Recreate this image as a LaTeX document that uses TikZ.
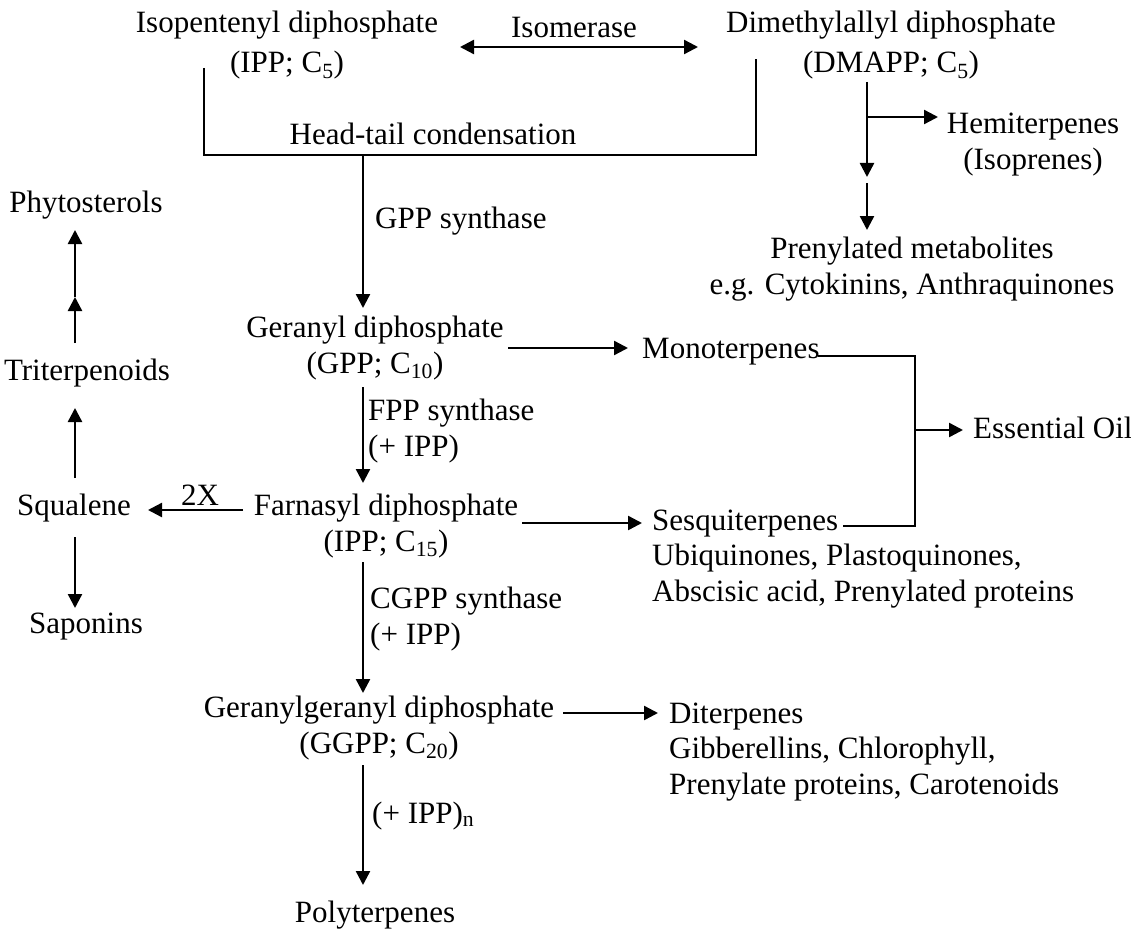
\documentclass[tikz,border=0pt]{standalone}
\usepackage{fontspec}
\setmainfont{Liberation Serif}
\usetikzlibrary{arrows.meta}
\begin{document}
\begin{tikzpicture}[x=1pt,y=-1pt,
  every node/.style={inner sep=0pt,font=\fontsize{31}{36}\selectfont},
  lbl/.style={anchor=base,align=center},
  lft/.style={anchor=base west,align=left},
  wire/.style={line width=2.4pt},
  arr/.style={wire,-{Triangle[length=14pt,width=14pt]}},
  dblarr/.style={wire,{Triangle[length=14pt,width=14pt]}-{Triangle[length=14pt,width=14pt]}}]
\useasboundingbox (0,0) rectangle (1131,928);

% ---- precursors (node base = baseline of the last line) ----
\node[lbl] (ipp)   at (287,73) {Isopentenyl diphosphate\\[4pt](IPP; C\textsubscript{5})};
\node[lbl] (dmapp) at (891,73) {Dimethylallyl diphosphate\\[4pt](DMAPP; C\textsubscript{5})};
\node[lbl] (isom)  at (574,38) {Isomerase};
\node[lbl] (htc)   at (433,145) {Head-tail condensation};

% ---- main chain ----
\node[lft] (gppsyn)  at (375,228) {GPP synthase};
\node[lbl] (gpp)     at (375,373) {Geranyl diphosphate\\(GPP; C\textsubscript{10})};
\node[lft] (fppsyn)  at (368,456) {FPP synthase\\(+ IPP)};
\node[lbl] (fpp)     at (386,551) {Farnasyl diphosphate\\(IPP; C\textsubscript{15})};
\node[lft] (cgppsyn) at (370,644) {CGPP synthase\\(+ IPP)};
\node[lbl] (ggpp)    at (379,753) {Geranylgeranyl diphosphate\\(GGPP; C\textsubscript{20})};
\node[lft] (ipn)     at (372,823) {(+ IPP)\textsubscript{n}};
\node[lbl] (poly)    at (375,922) {Polyterpenes};

% ---- sterol branch ----
\node[lbl] (phyto)  at (86,212) {Phytosterols};
\node[lbl] (triter) at (87,380) {Triterpenoids};
\node[lbl] (squal)  at (74,515) {Squalene};
\node[lbl] (sapon)  at (86,633) {Saponins};
\node[lbl] (twox)   at (200,505) {2X};

% ---- products ----
\node[lbl] (hemi)     at (1033,170) {Hemiterpenes\\(Isoprenes)};
\node[lbl] (prenyl)   at (912,294) {Prenylated metabolites\\e.g. Cytokinins, Anthraquinones};
\node[lft] (mono)     at (642,358) {Monoterpenes};
\node[lft] (sesq)     at (652,530) {Sesquiterpenes};
\node[lft] (sesqprod) at (652,601) {Ubiquinones, Plastoquinones,\\Abscisic acid, Prenylated proteins};
\node[lft] (eoil)     at (973,438) {Essential Oil};
\node[lft] (diter)    at (669,723) {Diterpenes};
\node[lft] (diterprod) at (669,794) {Gibberellins, Chlorophyll,\\Prenylate proteins, Carotenoids};

% ---- connector end points ----
\coordinate (isoL) at (460,47);   \coordinate (isoR) at (698,47);
\coordinate (ippD) at (204,68);   \coordinate (dmaD) at (756,59);
\coordinate (htL)  at (204,155);  \coordinate (htR)  at (756,155);
\coordinate (htM)  at (363,155);  \coordinate (gppT) at (363,308);
\coordinate (gppB) at (363,387);  \coordinate (fppT) at (363,483);
\coordinate (fppB) at (363,562);  \coordinate (ggT)  at (363,693);
\coordinate (ggB)  at (363,765);  \coordinate (polT) at (363,885);
\coordinate (dmB)  at (867,82);   \coordinate (dmJ)  at (867,117);
\coordinate (dmM)  at (867,177);  \coordinate (dmM2) at (867,183);
\coordinate (prT)  at (867,230);  \coordinate (hemL) at (938,117);
\coordinate (gppE) at (508,348);  \coordinate (monW) at (628,348);
\coordinate (fppE) at (522,523);  \coordinate (sesW) at (642,523);
\coordinate (ggE)  at (563,713);  \coordinate (ditW) at (658,713);
\coordinate (monE) at (818,356);  \coordinate (sesE) at (843,526);
\coordinate (eoT)  at (915,356);  \coordinate (eoB)  at (915,526);
\coordinate (eoJ)  at (915,430);  \coordinate (eoW)  at (963,430);
\coordinate (fppW) at (243,510);  \coordinate (sqE)  at (148,510);
\coordinate (sqT)  at (75,478);   \coordinate (trB)  at (75,408);
\coordinate (trT)  at (75,343);   \coordinate (phM)  at (75,297);
\coordinate (phB)  at (75,230);
\coordinate (sqB)  at (75,537);   \coordinate (saT)  at (75,608);

% ---- connectors ----
\draw[dblarr] (isoL) -- (isoR);
\draw[wire] (ippD) -- (htL) -- (htR) -- (dmaD);
\draw[arr] (htM) -- (gppT);
\draw[arr] (gppB) -- (fppT);
\draw[arr] (fppB) -- (ggT);
\draw[arr] (ggB) -- (polT);

\draw[arr] (dmB) -- (dmM);
\draw[arr] (dmJ) -- (hemL);
\draw[arr] (dmM2) -- (prT);

\draw[arr] (gppE) -- (monW);
\draw[arr] (fppE) -- (sesW);
\draw[arr] (ggE) -- (ditW);
\draw[wire] (monE) -- (eoT) -- (eoB) -- (sesE);
\draw[arr] (eoJ) -- (eoW);

\draw[arr] (fppW) -- (sqE);
\draw[arr] (sqT) -- (trB);
\draw[arr] (trT) -- (phM);
\draw[arr] (phM) -- (phB);
\draw[arr] (sqB) -- (saT);
\end{tikzpicture}
\end{document}
